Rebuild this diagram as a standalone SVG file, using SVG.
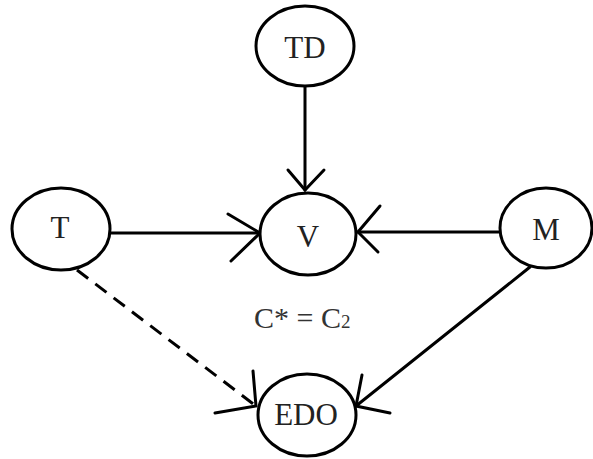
<svg xmlns="http://www.w3.org/2000/svg" width="593" height="459" viewBox="0 0 593 459">
<style>
.node ellipse{fill:#fff;stroke:#000;stroke-width:3}
.node text{font-family:'Liberation Serif','Times New Roman','DejaVu Serif',serif;font-size:31px;fill:#222;text-anchor:middle}
.edge{stroke:#000;stroke-width:3;fill:none;stroke-linecap:round}
.dash{stroke-dasharray:14 9;stroke-linecap:butt}
.lbl{font-family:'Liberation Serif','Times New Roman','DejaVu Serif',serif;font-size:30px;fill:#333}
</style>
<rect width="593" height="459" fill="#fff"/>
<g id="connectors">
<line class="edge" x1="305" y1="87" x2="305" y2="190"/>
<polyline class="edge" points="288,170 305,190 324,170"/>
<line class="edge" x1="110" y1="233" x2="260" y2="233"/>
<polyline class="edge" points="228,214 260,233 231,261"/>
<line class="edge" x1="500" y1="232" x2="358" y2="232"/>
<polyline class="edge" points="380,206 358,232 378,252"/>
<line class="edge" x1="530" y1="267" x2="356" y2="406"/>
<polyline class="edge" points="362,375 356,406 390,413"/>
<line class="edge dash" x1="77" y1="270" x2="256" y2="406"/>
<polyline class="edge" points="253,371 256,406 215,413"/>
</g>
<g id="node-TD" class="node"><ellipse cx="305" cy="46" rx="49" ry="40"/><text x="305" y="58">TD</text></g>
<g id="node-V" class="node"><ellipse cx="308" cy="234" rx="48" ry="41"/><text x="308" y="247">V</text></g>
<g id="node-T" class="node"><ellipse cx="61" cy="229" rx="49" ry="41"/><text x="60" y="238">T</text></g>
<g id="node-M" class="node"><ellipse cx="546" cy="228" rx="46" ry="40"/><text x="546" y="240">M</text></g>
<g id="node-EDO" class="node"><ellipse cx="307" cy="415" rx="49" ry="41"/><text x="306" y="425">EDO</text></g>
<text class="lbl" x="254" y="328">C* = C<tspan font-size="19">2</tspan></text>
</svg>
